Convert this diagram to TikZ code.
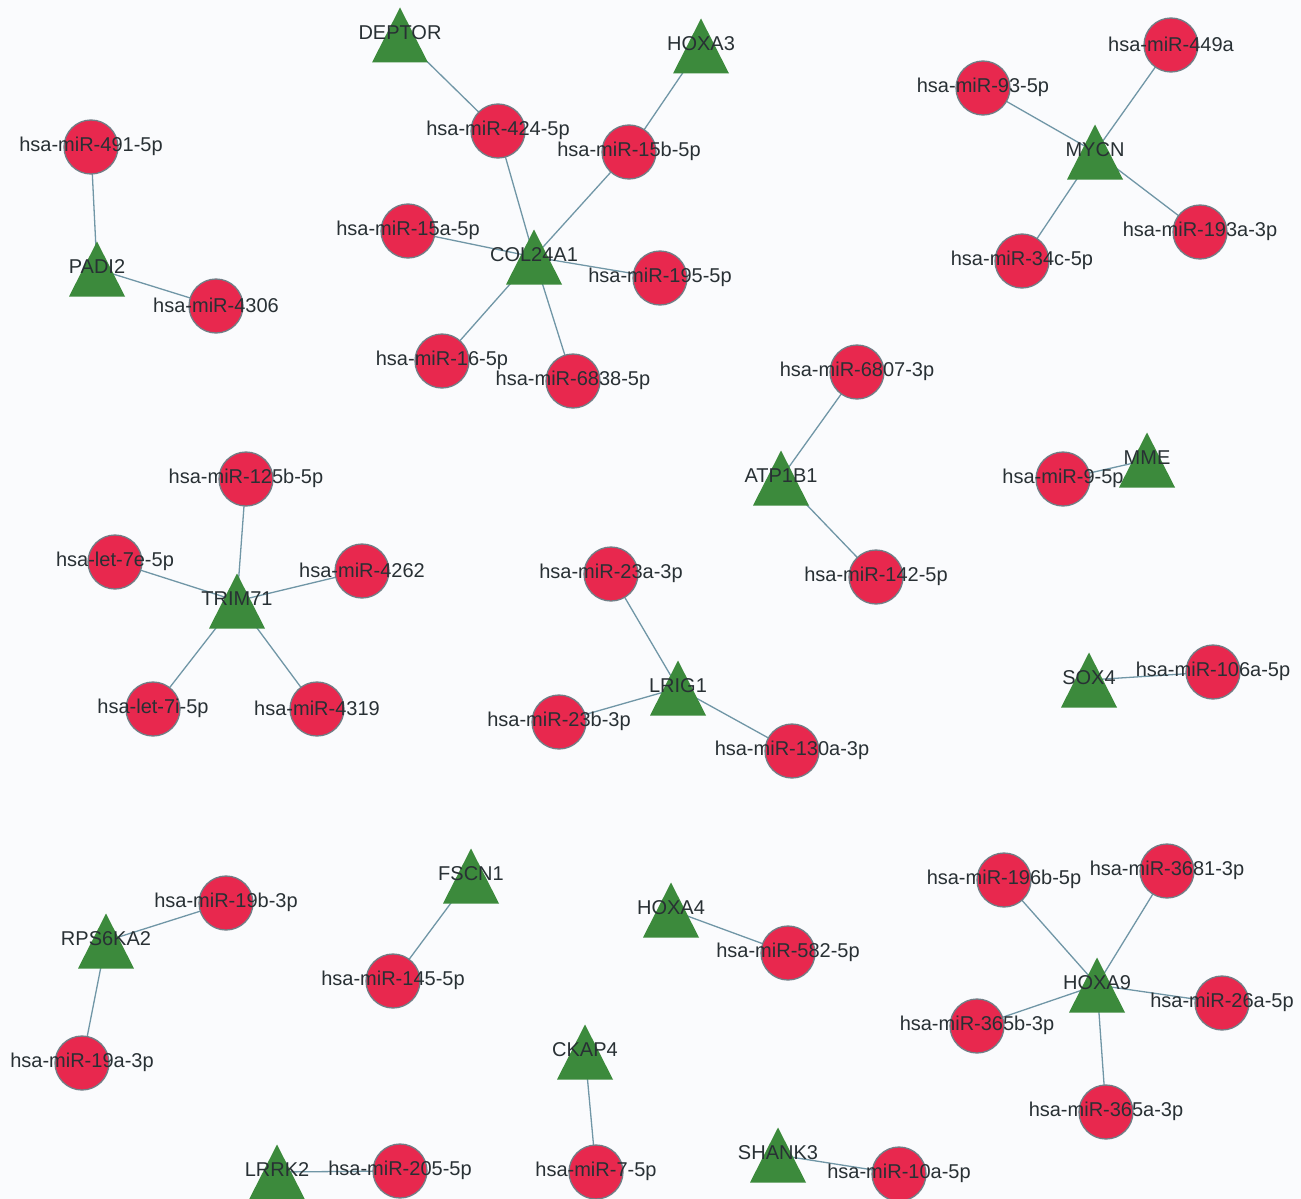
\documentclass[tikz,border=0pt]{standalone}
\usepackage{fontspec}
\setmainfont{Liberation Sans}
\usepackage{tikz}
\definecolor{mirred}{RGB}{232,40,78}
\definecolor{mirline}{RGB}{112,126,134}
\definecolor{genegreen}{RGB}{60,138,60}
\definecolor{linkcol}{RGB}{112,150,166}
\definecolor{lbltext}{RGB}{40,48,52}
\definecolor{paper}{RGB}{250,251,253}
\pgfdeclarelayer{edges}
\pgfsetlayers{edges,main}

\begin{document}
\begin{tikzpicture}[x=1pt, y=-1pt,
  lbl/.style={font=\fontsize{20}{24}\selectfont, text=lbltext, inner sep=0pt, yshift=1pt},
  mir/.style={circle, draw=mirline, fill=mirred, line width=1.3pt, minimum size=54pt,
    inner sep=0pt, label={[lbl]center:#1}},
  gene/.style={rectangle, minimum width=56pt, minimum height=55pt, inner sep=0pt,
    path picture={\fill[genegreen] (path picture bounding box.south west)
      -- (path picture bounding box.south east)
      -- (path picture bounding box.north) -- cycle;},
    label={[lbl, yshift=1pt]center:#1}},
  link/.style={draw=linkcol, line width=1.3pt}]
  \useasboundingbox (0,0) rectangle (1301,1199);

  % genes (triangles)
  \node[gene=PADI2]   (padi2)   at (97,269)   {};
  \node[gene=DEPTOR]  (deptor)  at (400,35)   {};
  \node[gene=HOXA3]   (hoxa3)   at (701,46)   {};
  \node[gene=COL24A1] (col24a1) at (534,257)  {};
  \node[gene=MYCN]    (mycn)    at (1095,152) {};
  \node[gene=ATP1B1]  (atp1b1)  at (781,478)  {};
  \node[gene=MME]     (mme)     at (1147,460) {};
  \node[gene=TRIM71]  (trim71)  at (237,601)  {};
  \node[gene=LRIG1]   (lrig1)   at (678,688)  {};
  \node[gene=SOX4]    (sox4)    at (1089,680) {};
  \node[gene=RPS6KA2] (rps6ka2) at (106,941)  {};
  \node[gene=FSCN1]   (fscn1)   at (471,876)  {};
  \node[gene=HOXA4]   (hoxa4)   at (671,910)  {};
  \node[gene=HOXA9]   (hoxa9)   at (1097,985) {};
  \node[gene=CKAP4]   (ckap4)   at (585,1052) {};
  \node[gene=LRRK2]   (lrrk2)   at (277,1172) {};
  \node[gene=SHANK3]  (shank3)  at (778,1155) {};

  % miRNAs (circles)
  \node[mir=hsa-miR-491-5p]  (m491)  at (91,147)    {};
  \node[mir=hsa-miR-4306]    (m4306) at (216,306)   {};
  \node[mir=hsa-miR-424-5p]  (m424)  at (498,131)   {};
  \node[mir=hsa-miR-15b-5p]  (m15b)  at (629,152)   {};
  \node[mir=hsa-miR-15a-5p]  (m15a)  at (408,231)   {};
  \node[mir=hsa-miR-195-5p]  (m195)  at (660,278)   {};
  \node[mir=hsa-miR-16-5p]   (m16)   at (442,361)   {};
  \node[mir=hsa-miR-6838-5p] (m6838) at (573,381)   {};
  \node[mir=hsa-miR-449a]    (m449a) at (1171,45)   {};
  \node[mir=hsa-miR-93-5p]   (m93)   at (983,88)    {};
  \node[mir=hsa-miR-193a-3p] (m193a) at (1200,232)  {};
  \node[mir=hsa-miR-34c-5p]  (m34c)  at (1022,261)  {};
  \node[mir=hsa-miR-6807-3p] (m6807) at (857,372)   {};
  \node[mir=hsa-miR-142-5p]  (m142)  at (876,577)   {};
  \node[mir=hsa-miR-9-5p]    (m9)    at (1063,479)  {};
  \node[mir=hsa-miR-125b-5p] (m125b) at (246,479)   {};
  \node[mir=hsa-let-7e-5p]   (let7e) at (115,562)   {};
  \node[mir=hsa-miR-4262]    (m4262) at (362,571)   {};
  \node[mir=hsa-let-7i-5p]   (let7i) at (153,709)   {};
  \node[mir=hsa-miR-4319]    (m4319) at (317,709)   {};
  \node[mir=hsa-miR-23a-3p]  (m23a)  at (611,574)   {};
  \node[mir=hsa-miR-23b-3p]  (m23b)  at (559,722)   {};
  \node[mir=hsa-miR-130a-3p] (m130a) at (792,751)   {};
  \node[mir=hsa-miR-106a-5p] (m106a) at (1213,672)  {};
  \node[mir=hsa-miR-19b-3p]  (m19b)  at (226,903)   {};
  \node[mir=hsa-miR-19a-3p]  (m19a)  at (82,1063)   {};
  \node[mir=hsa-miR-145-5p]  (m145)  at (393,981)   {};
  \node[mir=hsa-miR-582-5p]  (m582)  at (788,953)   {};
  \node[mir=hsa-miR-196b-5p] (m196b) at (1004,880)  {};
  \node[mir=hsa-miR-3681-3p] (m3681) at (1167,871)  {};
  \node[mir=hsa-miR-26a-5p]  (m26a)  at (1222,1003) {};
  \node[mir=hsa-miR-365b-3p] (m365b) at (977,1026)  {};
  \node[mir=hsa-miR-365a-3p] (m365a) at (1106,1112) {};
  \node[mir=hsa-miR-7-5p]    (m7)    at (596,1172)  {};
  \node[mir=hsa-miR-205-5p]  (m205)  at (400,1171)  {};
  \node[mir=hsa-miR-10a-5p]  (m10a)  at (899,1174)  {};

  % interactions, centre to centre, under the nodes
  \begin{pgfonlayer}{edges}
    \fill[paper] (0,0) rectangle (1301,1199);
    \draw[link] (m491.center)--(padi2.center); \draw[link] (padi2.center)--(m4306.center);
    \draw[link] (deptor.center)--(m424.center); \draw[link] (hoxa3.center)--(m15b.center);
    \draw[link] (m424.center)--(col24a1.center); \draw[link] (m15b.center)--(col24a1.center);
    \draw[link] (m15a.center)--(col24a1.center); \draw[link] (col24a1.center)--(m195.center);
    \draw[link] (col24a1.center)--(m16.center); \draw[link] (col24a1.center)--(m6838.center);
    \draw[link] (m449a.center)--(mycn.center); \draw[link] (m93.center)--(mycn.center);
    \draw[link] (mycn.center)--(m193a.center); \draw[link] (mycn.center)--(m34c.center);
    \draw[link] (m6807.center)--(atp1b1.center); \draw[link] (atp1b1.center)--(m142.center);
    \draw[link] (m9.center)--(mme.center);
    \draw[link] (m125b.center)--(trim71.center); \draw[link] (let7e.center)--(trim71.center);
    \draw[link] (m4262.center)--(trim71.center); \draw[link] (trim71.center)--(let7i.center);
    \draw[link] (trim71.center)--(m4319.center);
    \draw[link] (m23a.center)--(lrig1.center); \draw[link] (m23b.center)--(lrig1.center);
    \draw[link] (lrig1.center)--(m130a.center);
    \draw[link] (sox4.center)--(m106a.center);
    \draw[link] (m19b.center)--(rps6ka2.center); \draw[link] (rps6ka2.center)--(m19a.center);
    \draw[link] (fscn1.center)--(m145.center);
    \draw[link] (hoxa4.center)--(m582.center);
    \draw[link] (m196b.center)--(hoxa9.center); \draw[link] (m3681.center)--(hoxa9.center);
    \draw[link] (hoxa9.center)--(m26a.center); \draw[link] (hoxa9.center)--(m365b.center);
    \draw[link] (hoxa9.center)--(m365a.center);
    \draw[link] (ckap4.center)--(m7.center);
    \draw[link] (lrrk2.center)--(m205.center);
    \draw[link] (shank3.center)--(m10a.center);
  \end{pgfonlayer}
\end{tikzpicture}
\end{document}
